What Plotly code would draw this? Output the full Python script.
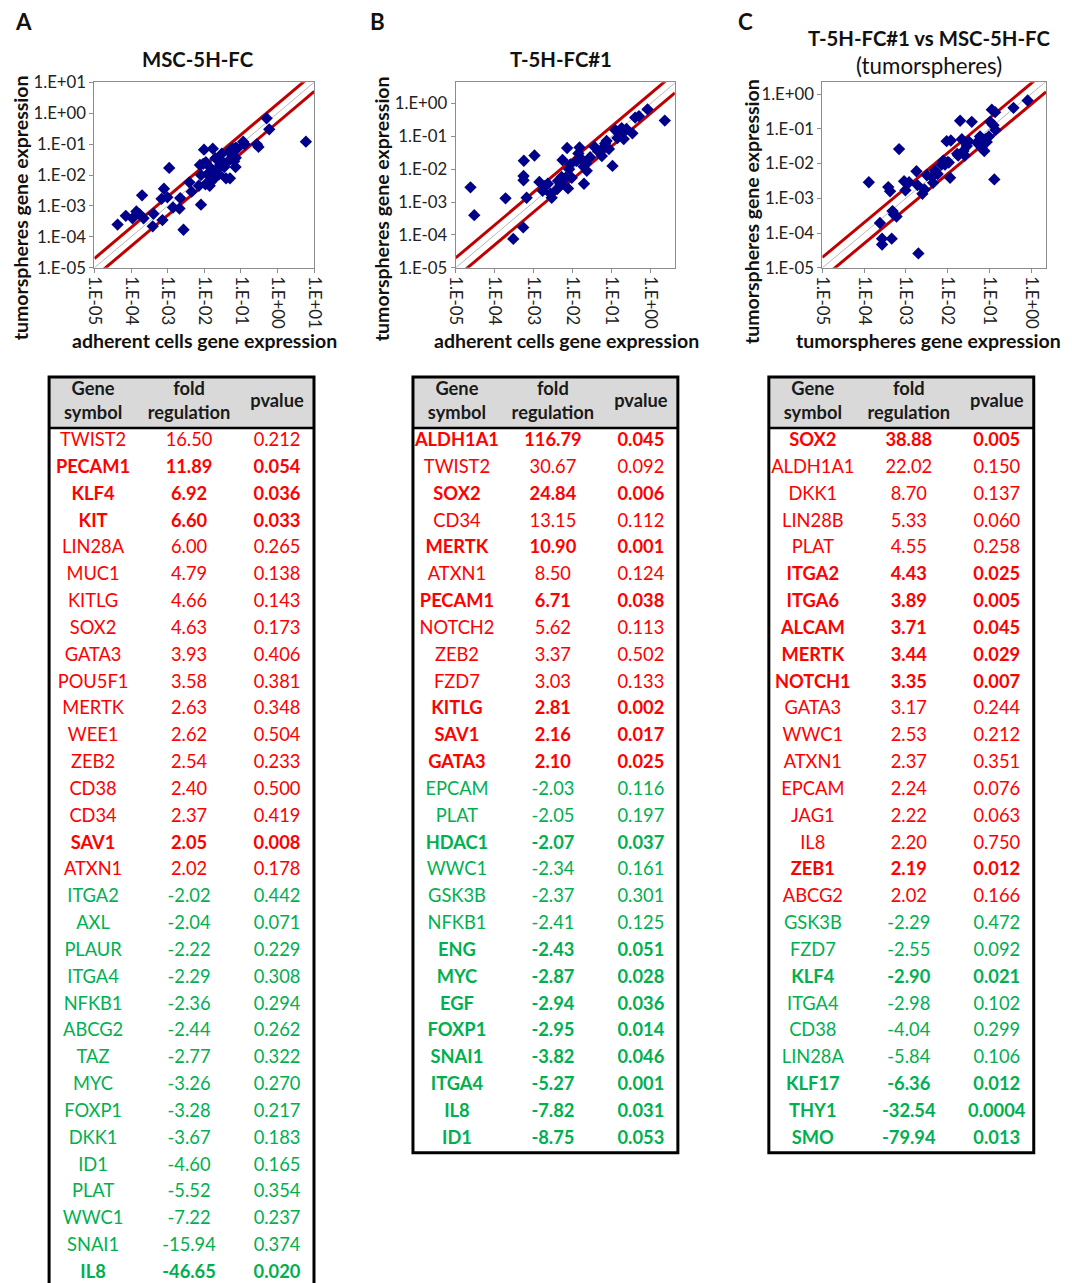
import plotly.graph_objects as go

FONT = "Lato"

# ---------------- scatter data (expression values) ----------------
A_adherent = [4.3e-5, 7.2e-5, 1.1e-4, 1.4e-4, 1.7e-4, 2.0e-4, 2.2e-4, 4.1e-4, 3.9e-4, 7.2e-4,
              6.8e-4, 7.9e-4, 9.8e-4, 1.1e-3, 1.4e-3, 2.1e-3, 2.2e-3, 2.7e-3, 3.9e-3, 4.5e-3,
              7.1e-3, 8.1e-3, 8.1e-3, 9.8e-3, 9.3e-3, 1.1e-2, 1.2e-2, 1.4e-2, 1.4e-2, 1.5e-2,
              1.7e-2, 1.6e-2, 1.8e-2, 1.9e-2, 2.2e-2, 2.5e-2, 2.7e-2, 3.0e-2, 3.0e-2, 3.5e-2,
              3.9e-2, 4.5e-2, 4.8e-2, 5.0e-2, 5.2e-2, 5.6e-2, 5.9e-2, 6.5e-2, 7.1e-2, 7.2e-2,
              7.9e-2, 0.115, 0.126, 0.27, 0.30, 0.50, 0.59, 5.9, 7.2e-2, 7.6e-3, 2.0e-2, 1.07e-2]
A_tumorsph = [2.5e-4, 4.8e-4, 4.0e-4, 6.6e-4, 5.4e-4, 2.2e-3, 4.0e-4, 5.6e-4, 2.2e-4, 3.5e-4,
              1.7e-3, 3.6e-3, 1.9e-3, 1.7e-2, 8.9e-4, 8.3e-4, 1.8e-3, 1.7e-4, 5.8e-3, 2.9e-3,
              4.5e-3, 1.1e-3, 1.0e-2, 6.6e-2, 2.3e-2, 2.6e-2, 1.05e-2, 1.8e-2, 4.5e-3, 6.0e-3,
              7.1e-2, 1.35e-2, 1.0e-2, 7.8e-3, 1.5e-2, 1.05e-2, 2.1e-2, 4.9e-2, 2.8e-2, 1.8e-2,
              7.8e-3, 2.8e-2, 5.6e-2, 7.8e-3, 6.6e-2, 4.7e-2, 7.2e-2, 2.8e-2, 1.8e-2, 3.6e-2,
              7.2e-2, 0.12, 0.098, 0.098, 0.081, 0.68, 0.30, 0.12, 7.6e-2, 2.1e-2, 3.5e-2, 5.0e-3]

B_adherent = [2.4e-5, 3.0e-5, 1.9e-4, 3.0e-4, 5.4e-4, 5.6e-4, 5.5e-4, 5.5e-4, 6.6e-4, 1.05e-3,
              1.4e-3, 1.7e-3, 1.95e-3, 2.3e-3, 2.7e-3, 2.9e-3, 4.2e-3, 5.2e-3, 5.5e-3, 6.6e-3,
              7.2e-3, 7.6e-3, 8.1e-3, 8.7e-3, 9.5e-3, 1.4e-2, 1.5e-2, 1.7e-2, 1.9e-2, 1.95e-2,
              2.2e-2, 2.3e-2, 2.8e-2, 3.6e-2, 5.6e-2, 6.0e-2, 6.8e-2, 7.4e-2, 8.5e-2, 0.105,
              0.123, 0.162, 0.18, 0.204, 0.24, 0.34, 0.40, 0.50, 0.83, 2.3,
              4.0e-3, 1.26e-2, 4.5e-2, 0.14, 5.0e-3]
B_tumorsph = [2.8e-3, 4.0e-4, 1.3e-3, 7.6e-5, 1.7e-4, 1.8e-2, 6.2e-3, 4.6e-3, 1.35e-3, 2.6e-2,
              4.1e-3, 2.2e-3, 3.1e-3, 3.6e-3, 1.8e-3, 1.35e-3, 4.4e-3, 5.8e-3, 1.9e-2, 5.5e-3,
              4.4e-2, 2.6e-3, 1.0e-2, 1.4e-2, 5.5e-3, 3.0e-2, 4.6e-2, 2.0e-2, 1.2e-2, 3.6e-3,
              1.5e-2, 8.9e-3, 2.3e-2, 4.8e-2, 2.5e-2, 4.4e-2, 6.0e-2, 7.2e-2, 4.1e-2, 1.26e-2,
              0.155, 0.123, 0.178, 0.083, 0.166, 0.123, 0.37, 0.41, 0.66, 0.30,
              2.5e-3, 1.8e-2, 3.5e-2, 0.089, 3.5e-3]

C_msc = [1.3e-4, 2.4e-4, 2.7e-4, 2.7e-4, 3.8e-4, 4.2e-4, 4.6e-4, 4.8e-4, 5.2e-4, 6.0e-4,
         6.9e-4, 9.1e-4, 9.8e-4, 1.2e-3, 1.8e-3, 1.9e-3, 2.0e-3, 2.5e-3, 3.2e-3, 4.2e-3,
         4.5e-3, 5.0e-3, 5.8e-3, 7.2e-3, 7.9e-3, 8.7e-3, 9.5e-3, 1.0e-2, 1.07e-2, 1.15e-2,
         1.2e-2, 1.7e-2, 1.8e-2, 2.0e-2, 2.2e-2, 2.4e-2, 2.6e-2, 2.9e-2, 3.2e-2, 3.8e-2,
         6.0e-2, 6.6e-2, 7.6e-2, 8.1e-2, 8.7e-2, 9.8e-2, 0.105, 0.115, 0.126, 0.132,
         0.138, 0.141, 0.38, 0.83, 5.0e-2, 2.8e-3]
C_t5h = [2.9e-3, 1.95e-4, 6.9e-5, 4.7e-5, 2.1e-3, 1.6e-3, 6.9e-5, 4.3e-4, 3.4e-4, 3.0e-4,
         2.6e-2, 3.1e-3, 1.7e-3, 2.9e-3, 6.0e-3, 2.4e-3, 2.6e-5, 1.35e-3, 4.6e-3, 4.1e-3,
         2.8e-3, 6.3e-3, 5.0e-3, 9.3e-3, 1.2e-2, 9.3e-3, 4.4e-2, 1.1e-2, 1.07e-2, 3.9e-3,
         4.6e-2, 1.9e-2, 1.7e-2, 0.17, 5.0e-2, 2.3e-2, 1.7e-2, 3.2e-2, 4.4e-2, 0.158,
         6.0e-2, 2.8e-2, 2.3e-2, 5.0e-2, 4.2e-2, 6.0e-2, 0.158, 0.355, 0.126, 3.5e-3,
         0.30, 0.093, 0.40, 0.65, 4.0e-2, 1.8e-3]

FOLD_BOUNDARY = 2.0

A_ticks = ["1.E-05", "1.E-04", "1.E-03", "1.E-02", "1.E-01", "1.E+00", "1.E+01"]
BC_ticks = ["1.E-05", "1.E-04", "1.E-03", "1.E-02", "1.E-01", "1.E+00"]
A_tickvals = [1e-5, 1e-4, 1e-3, 1e-2, 1e-1, 1e0, 1e1]
BC_tickvals = [1e-5, 1e-4, 1e-3, 1e-2, 1e-1, 1e0]

# ---------------- table data ----------------
A_genes = ["TWIST2", "PECAM1", "KLF4", "KIT", "LIN28A", "MUC1", "KITLG", "SOX2", "GATA3", "POU5F1",
           "MERTK", "WEE1", "ZEB2", "CD38", "CD34", "SAV1", "ATXN1", "ITGA2", "AXL", "PLAUR",
           "ITGA4", "NFKB1", "ABCG2", "TAZ", "MYC", "FOXP1", "DKK1", "ID1", "PLAT", "WWC1",
           "SNAI1", "IL8"]
A_fold = ["16.50", "11.89", "6.92", "6.60", "6.00", "4.79", "4.66", "4.63", "3.93", "3.58",
          "2.63", "2.62", "2.54", "2.40", "2.37", "2.05", "2.02", "-2.02", "-2.04", "-2.22",
          "-2.29", "-2.36", "-2.44", "-2.77", "-3.26", "-3.28", "-3.67", "-4.60", "-5.52", "-7.22",
          "-15.94", "-46.65"]
A_pval = ["0.212", "0.054", "0.036", "0.033", "0.265", "0.138", "0.143", "0.173", "0.406", "0.381",
          "0.348", "0.504", "0.233", "0.500", "0.419", "0.008", "0.178", "0.442", "0.071", "0.229",
          "0.308", "0.294", "0.262", "0.322", "0.270", "0.217", "0.183", "0.165", "0.354", "0.237",
          "0.374", "0.020"]
A_bold = ["PECAM1", "KLF4", "KIT", "SAV1", "IL8"]

B_genes = ["ALDH1A1", "TWIST2", "SOX2", "CD34", "MERTK", "ATXN1", "PECAM1", "NOTCH2", "ZEB2", "FZD7",
           "KITLG", "SAV1", "GATA3", "EPCAM", "PLAT", "HDAC1", "WWC1", "GSK3B", "NFKB1", "ENG",
           "MYC", "EGF", "FOXP1", "SNAI1", "ITGA4", "IL8", "ID1"]
B_fold = ["116.79", "30.67", "24.84", "13.15", "10.90", "8.50", "6.71", "5.62", "3.37", "3.03",
          "2.81", "2.16", "2.10", "-2.03", "-2.05", "-2.07", "-2.34", "-2.37", "-2.41", "-2.43",
          "-2.87", "-2.94", "-2.95", "-3.82", "-5.27", "-7.82", "-8.75"]
B_pval = ["0.045", "0.092", "0.006", "0.112", "0.001", "0.124", "0.038", "0.113", "0.502", "0.133",
          "0.002", "0.017", "0.025", "0.116", "0.197", "0.037", "0.161", "0.301", "0.125", "0.051",
          "0.028", "0.036", "0.014", "0.046", "0.001", "0.031", "0.053"]
B_bold = ["ALDH1A1", "SOX2", "MERTK", "PECAM1", "KITLG", "SAV1", "GATA3", "HDAC1", "ENG", "MYC",
          "EGF", "FOXP1", "SNAI1", "ITGA4", "IL8", "ID1"]

C_genes = ["SOX2", "ALDH1A1", "DKK1", "LIN28B", "PLAT", "ITGA2", "ITGA6", "ALCAM", "MERTK", "NOTCH1",
           "GATA3", "WWC1", "ATXN1", "EPCAM", "JAG1", "IL8", "ZEB1", "ABCG2", "GSK3B", "FZD7",
           "KLF4", "ITGA4", "CD38", "LIN28A", "KLF17", "THY1", "SMO"]
C_fold = ["38.88", "22.02", "8.70", "5.33", "4.55", "4.43", "3.89", "3.71", "3.44", "3.35",
          "3.17", "2.53", "2.37", "2.24", "2.22", "2.20", "2.19", "2.02", "-2.29", "-2.55",
          "-2.90", "-2.98", "-4.04", "-5.84", "-6.36", "-32.54", "-79.94"]
C_pval = ["0.005", "0.150", "0.137", "0.060", "0.258", "0.025", "0.005", "0.045", "0.029", "0.007",
          "0.244", "0.212", "0.351", "0.076", "0.063", "0.750", "0.012", "0.166", "0.472", "0.092",
          "0.021", "0.102", "0.299", "0.106", "0.012", "0.0004", "0.013"]
C_bold = ["SOX2", "ITGA2", "ITGA6", "ALCAM", "MERTK", "NOTCH1", "ZEB1", "KLF4", "KLF17", "THY1", "SMO"]

HEADERS = ["Gene<br>symbol", "fold<br>regulation", "pvalue"]

# ---------------- styling / layout constants ----------------
UP_COLOR = "#ff0000"
DOWN_COLOR = "#00b050"
MARKER_COLOR = "#00008b"
LINE_RED = "#c00000"
BORDER_GRAY = "#8c8c8c"

# Target positions below are given in the 1072x1283 picture; the page is photographed
# with a small offset and shrink, which these constants undo.
SCALE_X, SCALE_Y = 0.981, 0.984
OFF_X, OFF_Y = 8.9, 9.8
W, H = 1086, 1296


def fs(size):
    return size / SCALE_Y


def px(x):
    return ((x - OFF_X) / SCALE_X) / W


def py(y):
    return 1 - ((y - OFF_Y) / SCALE_Y) / H


TICK_SIZE = fs(16.5)

fig = go.Figure()

panels = [
    dict(n="", x=A_adherent, y=A_tumorsph, box=(94.3, 314.3, 81, 266.7),
         xr=(-5, 1), yr=(-5, 1), tv=A_tickvals, tt=A_ticks),
    dict(n="2", x=B_adherent, y=B_tumorsph, box=(455.7, 675.0, 81, 266.7),
         xr=(-5, 0.62), yr=(-5, 0.645), tv=BC_tickvals, tt=BC_ticks),
    dict(n="3", x=C_msc, y=C_t5h, box=(822.5, 1046.3, 81, 266.7),
         xr=(-5, 0.36), yr=(-5, 0.34), tv=BC_tickvals, tt=BC_ticks),
]

layout_axes = {}
for p in panels:
    n = p["n"]
    xa, ya = "x" + n, "y" + n
    l, r, t, b = p["box"]
    xlo, xhi = 10 ** p["xr"][0], 10 ** p["xr"][1]
    # guide lines: y = x, y = fold*x, y = x/fold
    fig.add_trace(go.Scatter(x=[xlo, xhi], y=[xlo, xhi], mode="lines",
                             line=dict(color="#b8b8b8", width=1), xaxis=xa, yaxis=ya,
                             hoverinfo="skip", showlegend=False))
    for f in (FOLD_BOUNDARY, 1 / FOLD_BOUNDARY):
        fig.add_trace(go.Scatter(x=[xlo, xhi], y=[xlo * f, xhi * f], mode="lines",
                                 line=dict(color=LINE_RED, width=3), xaxis=xa, yaxis=ya,
                                 hoverinfo="skip", showlegend=False))
    fig.add_trace(go.Scatter(x=p["x"], y=p["y"], mode="markers",
                             marker=dict(symbol="diamond", size=9.5, color=MARKER_COLOR),
                             xaxis=xa, yaxis=ya, showlegend=False, cliponaxis=False,
                             hoverinfo="skip"))
    common = dict(type="log", showgrid=False, zeroline=False, showline=True, mirror=True,
                  linecolor=BORDER_GRAY, linewidth=1, ticks="outside", ticklen=4,
                  tickcolor=BORDER_GRAY, tickfont=dict(family=FONT, size=TICK_SIZE, color="#222"),
                  tickmode="array", tickvals=p["tv"], ticktext=p["tt"], fixedrange=True)
    layout_axes["xaxis" + n] = dict(common, domain=[px(l), px(r)], range=list(p["xr"]),
                                    anchor=ya, tickangle=90)
    layout_axes["yaxis" + n] = dict(common, domain=[py(b), py(t)], range=list(p["yr"]),
                                    anchor=xa)

# ---------------- tables ----------------
ROW_H = 26.84
HDR_TOP, HDR_BOT = 376, 427
COL_OFFSETS = [44, 140, 228]
TABLE_W = 265
PIC_BOTTOM = 1283
tables = [
    dict(n="4", left=49, genes=A_genes, fold=A_fold, pval=A_pval, bold=A_bold, cut=True),
    dict(n="5", left=413, genes=B_genes, fold=B_fold, pval=B_pval, bold=B_bold, cut=False),
    dict(n="6", left=769, genes=C_genes, fold=C_fold, pval=C_pval, bold=C_bold, cut=False),
]

shapes = []
for t in tables:
    n = t["n"]
    xa, ya = "x" + n, "y" + n
    nrows = len(t["genes"])
    table_bot = HDR_BOT + nrows * ROW_H
    dom_bot = PIC_BOTTOM if t["cut"] else table_bot
    hdr_units = (HDR_BOT - HDR_TOP) / ROW_H
    layout_axes["xaxis" + n] = dict(domain=[px(t["left"]), px(t["left"] + TABLE_W)],
                                    range=[0, TABLE_W], visible=False, fixedrange=True, anchor=ya)
    layout_axes["yaxis" + n] = dict(domain=[py(dom_bot), py(HDR_TOP)],
                                    range=[(dom_bot - HDR_BOT) / ROW_H, -hdr_units],
                                    visible=False, fixedrange=True, anchor=xa)
    rows = [i + 0.5 for i in range(nrows)]
    colors = [DOWN_COLOR if f.startswith("-") else UP_COLOR for f in t["fold"]]
    isb = [g in t["bold"] for g in t["genes"]]
    for ci, col in enumerate([t["genes"], t["fold"], t["pval"]]):
        txt = ["<b>%s</b>" % v if b else v for v, b in zip(col, isb)]
        fig.add_trace(go.Scatter(x=[COL_OFFSETS[ci]] * nrows, y=rows, mode="text", text=txt,
                                 textposition="middle center",
                                 textfont=dict(family=FONT, size=fs(18), color=colors),
                                 xaxis=xa, yaxis=ya, hoverinfo="skip", showlegend=False,
                                 cliponaxis=False))
    fig.add_trace(go.Scatter(x=COL_OFFSETS, y=[-hdr_units / 2] * 3, mode="text",
                             text=["<b>%s</b>" % h for h in HEADERS],
                             textposition="middle center",
                             textfont=dict(family=FONT, size=fs(18), color="#1a1a1a"),
                             xaxis=xa, yaxis=ya, hoverinfo="skip", showlegend=False,
                             cliponaxis=False))
    x0, x1 = px(t["left"]), px(t["left"] + TABLE_W)
    shapes.append(dict(type="rect", xref="paper", yref="paper", x0=x0, x1=x1,
                       y0=py(HDR_BOT), y1=py(HDR_TOP), fillcolor="#d9d9d9",
                       line=dict(width=0), layer="below"))
    shapes.append(dict(type="line", xref="paper", yref="paper", x0=x0, x1=x1,
                       y0=py(HDR_BOT), y1=py(HDR_BOT), line=dict(color="black", width=2.5)))
    bot = PIC_BOTTOM + 40 if t["cut"] else table_bot
    shapes.append(dict(type="rect", xref="paper", yref="paper", x0=x0, x1=x1,
                       y0=py(bot), y1=py(HDR_TOP), line=dict(color="black", width=3)))

# ---------------- annotations ----------------
def ann(text, x, y, size, bold=False, angle=0):
    return dict(text=("<b>%s</b>" % text) if bold else text, x=px(x), y=py(y),
                xref="paper", yref="paper", showarrow=False, textangle=angle,
                xanchor="center", yanchor="middle",
                font=dict(family=FONT, size=fs(size), color="#111"))

annotations = [
    ann("A", 23, 20, 22, True), ann("B", 378, 20, 22, True), ann("C", 746, 20, 22, True),
    ann("MSC-5H-FC", 198, 58, 20, True),
    ann("T-5H-FC#1", 561, 58, 20, True),
    ann("T-5H-FC#1 vs MSC-5H-FC", 929, 37, 20, True),
    ann("(tumorspheres)", 929, 64, 22, False),
    ann("adherent cells gene expression", 204, 339, 19.2, True),
    ann("adherent cells gene expression", 567, 339, 19.2, True),
    ann("tumorspheres gene expression", 929, 339, 19.2, True),
    ann("tumorspheres gene expression", 20, 207, 19.2, True, -90),
    ann("tumorspheres gene expression", 381, 207, 19.2, True, -90),
    ann("tumorspheres gene expression", 751, 210, 19.2, True, -90),
]

fig.update_layout(width=W, height=H, margin=dict(l=0, r=0, t=0, b=0),
                  paper_bgcolor="white", plot_bgcolor="white",
                  font=dict(family=FONT), shapes=shapes, annotations=annotations,
                  hovermode=False, **layout_axes)

POST = ("document.documentElement.style.margin='0';document.body.style.margin='0';"
        "document.body.style.padding='0';document.body.style.overflow='hidden';"
        "var d=document.querySelector('.plotly-graph-div');"
        "d.style.position='fixed';d.style.left='0px';d.style.top='0px';")

fig.write_html("out.html", config={"displayModeBar": False}, post_script=POST)
